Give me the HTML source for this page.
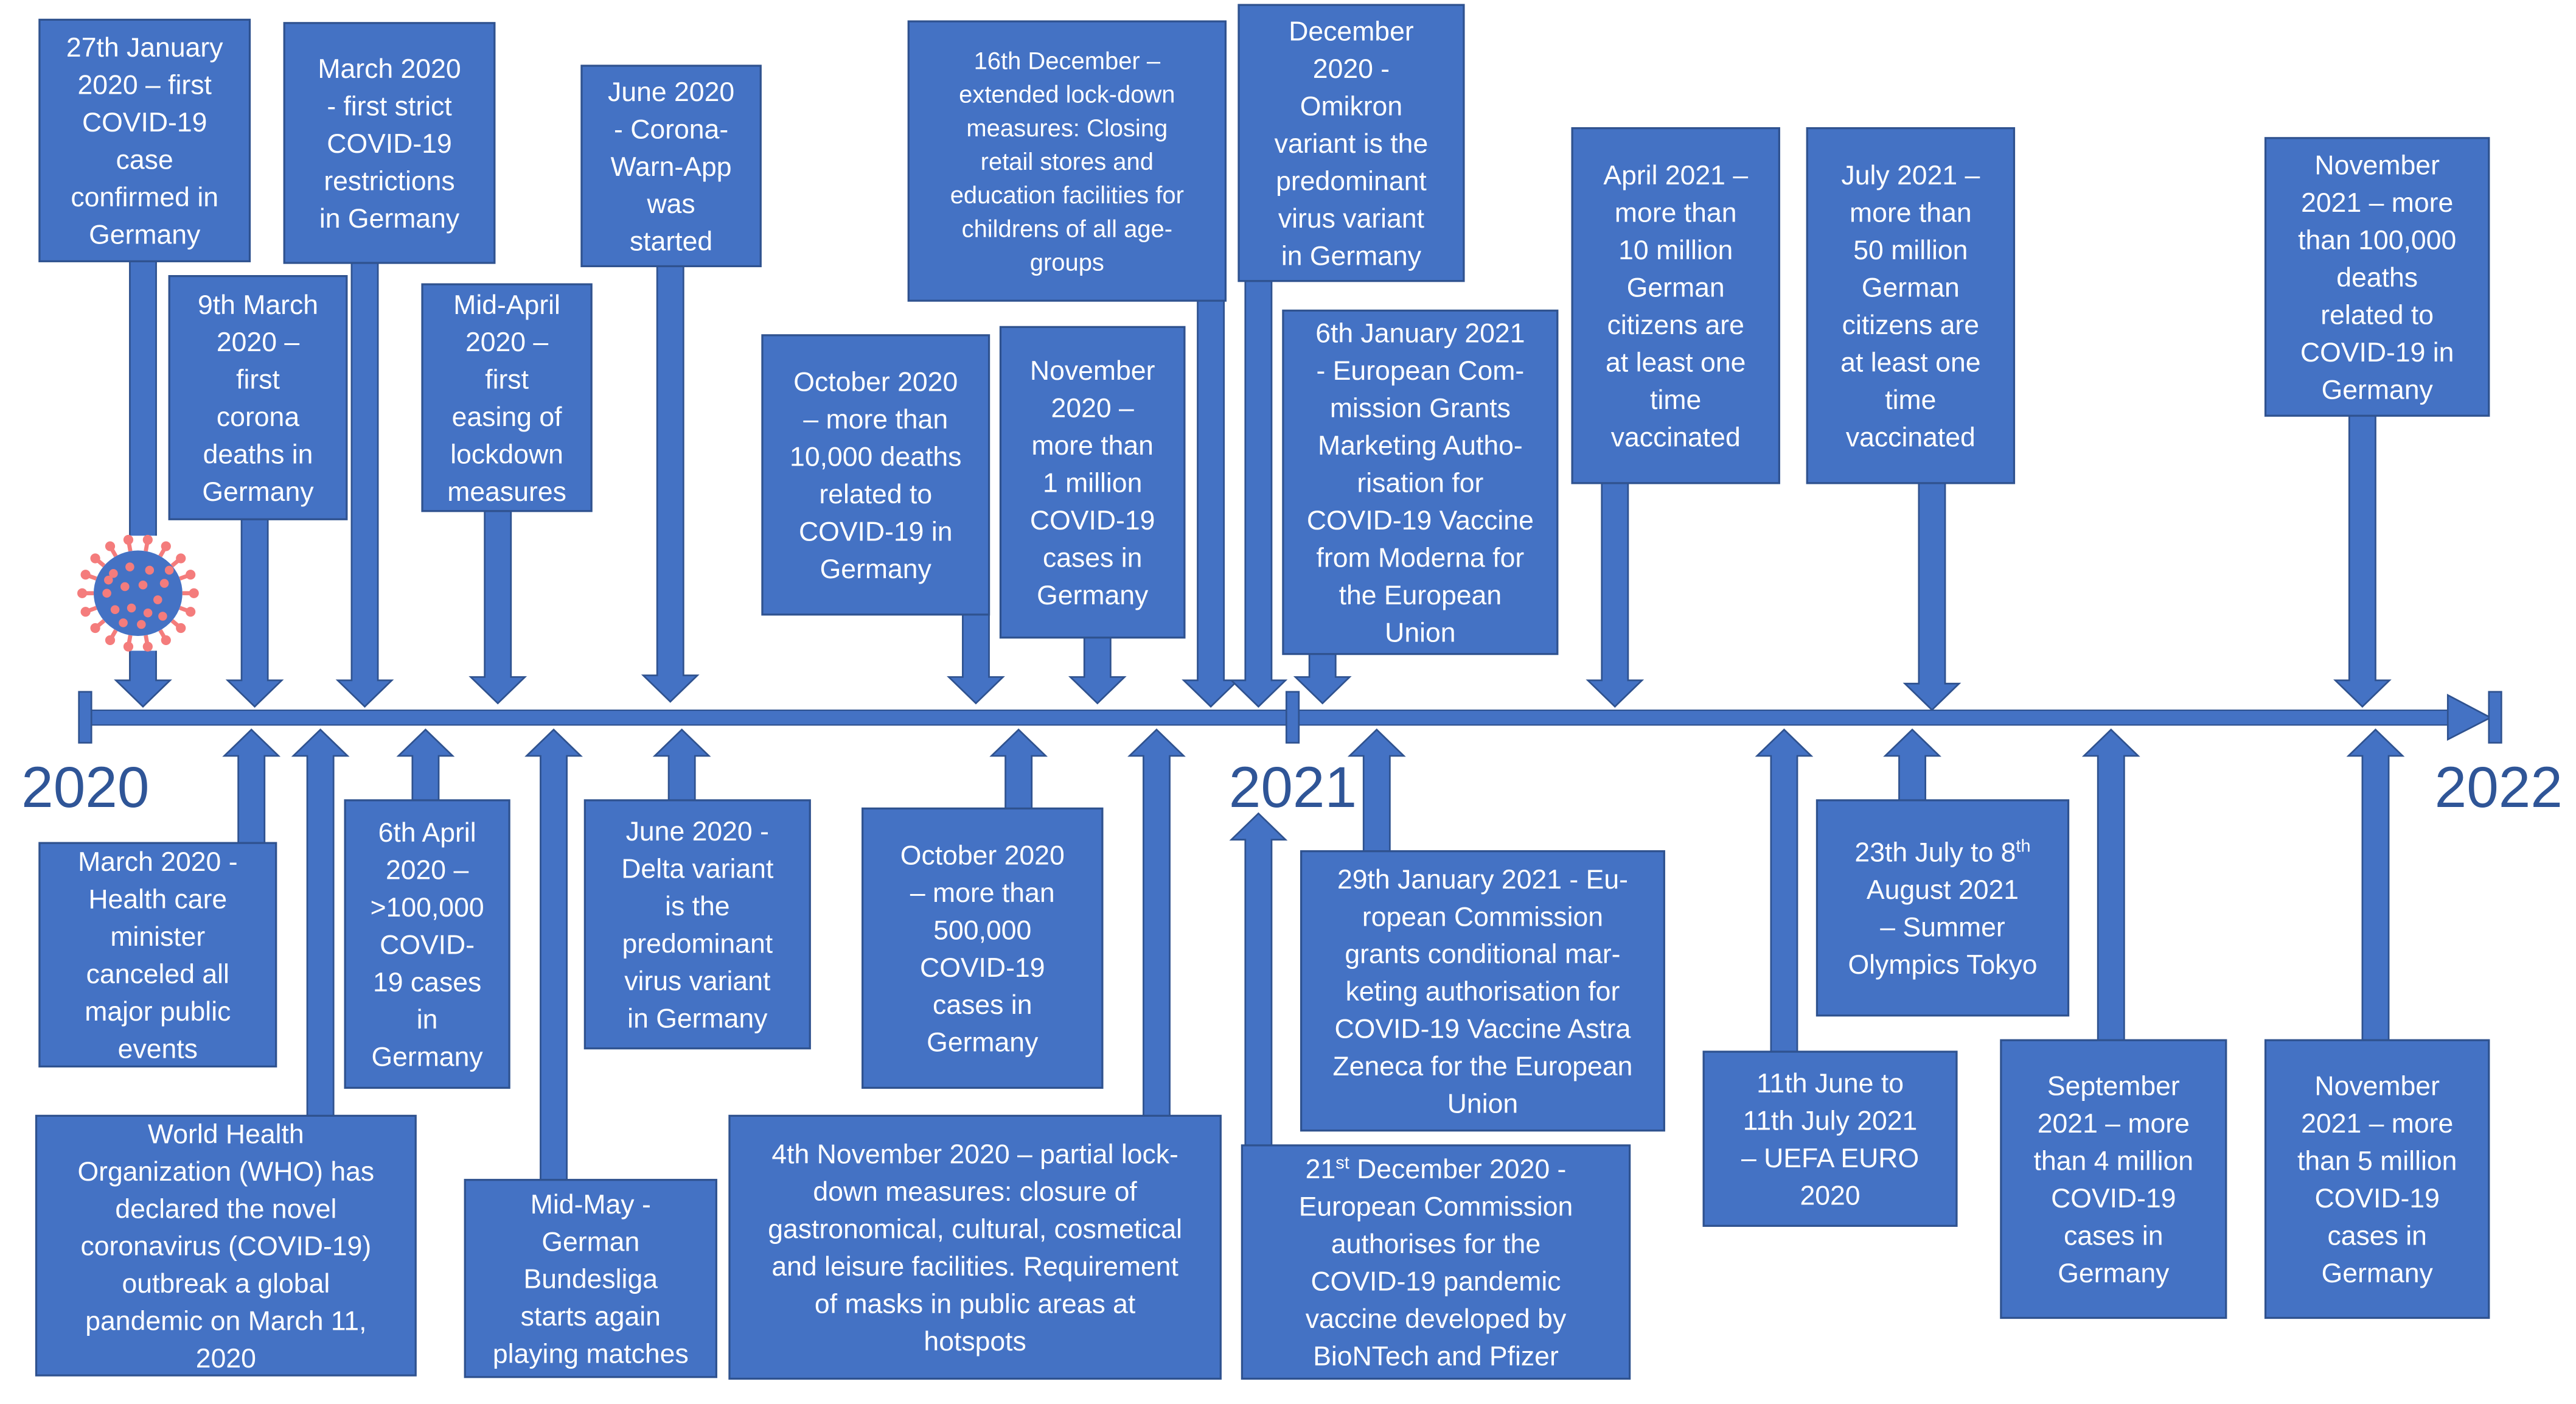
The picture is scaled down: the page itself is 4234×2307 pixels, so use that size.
<!DOCTYPE html>
<html><head><meta charset="utf-8"><style>
html,body{margin:0;padding:0;background:#fff;}
svg{display:block;}
text{font-family:"Liberation Sans",sans-serif;fill:#fff;}
</style></head><body>
<svg id="s" xmlns="http://www.w3.org/2000/svg" width="4234" height="2307" viewBox="0 0 1568 854.4">
<rect x="0" y="0" width="1568" height="854.4" fill="#fff"/>
<g id="arrows"></g>
<!-- axis -->
<rect x="52" y="432.2" width="1442" height="9" fill="#4472C4" stroke="#2F528F" stroke-width="0.8"/>
<polygon points="1490,423 1516,436.7 1490,450" fill="#4472C4" stroke="#2F528F" stroke-width="1"/>
<rect x="48" y="421" width="7.6" height="31" fill="#4472C4" stroke="#2F528F" stroke-width="1"/>
<rect x="783" y="421" width="7.6" height="31" fill="#4472C4" stroke="#2F528F" stroke-width="1"/>
<rect x="1515" y="421" width="7.6" height="31" fill="#4472C4" stroke="#2F528F" stroke-width="1"/>
<text x="13" y="491" style="fill:#2F5597;font-size:35px">2020</text>
<text x="748" y="491" style="fill:#2F5597;font-size:35px">2021</text>
<text x="1482" y="491" style="fill:#2F5597;font-size:35px">2022</text>
<!-- virus -->
<g id="virus">
<rect x="46" y="326" width="76" height="70" fill="#fff"/>
<ellipse cx="84" cy="361" rx="27" ry="26" fill="#4472C4"/>
</g>
<g id="boxes"></g>
</svg>
<script>
var NS="http://www.w3.org/2000/svg";
var ga=document.getElementById("arrows"),gb=document.getElementById("boxes"),gv=document.getElementById("virus");
function el(t,a,p){var e=document.createElementNS(NS,t);for(var k in a)e.setAttribute(k,a[k]);p.appendChild(e);return e;}
function down(x,y1,tip){var sw=8,hw=16.5,hl=16;
el("polygon",{points:[x-sw,y1,x+sw,y1,x+sw,tip-hl,x+hw,tip-hl,x,tip,x-hw,tip-hl,x-sw,tip-hl].join(" "),fill:"#4472C4",stroke:"#2F528F","stroke-width":1},ga);}
function up(x,y1,tip){var sw=8,hw=16.5,hl=16;
el("polygon",{points:[x-sw,y1,x+sw,y1,x+sw,tip+hl,x+hw,tip+hl,x,tip,x-hw,tip+hl,x-sw,tip+hl].join(" "),fill:"#4472C4",stroke:"#2F528F","stroke-width":1},ga);}
function box(x,y,w,h,lines,fs){fs=fs||16.5;var lh=fs*1.38;
el("rect",{x:x,y:y,width:w,height:h,fill:"#4472C4",stroke:"#2F528F","stroke-width":1.2},gb);
var cy=y+h/2,b=cy-(lines.length-1)*lh/2+fs*0.36;
lines.forEach(function(l,i){var t=el("text",{x:x+w/2,y:b+i*lh,"text-anchor":"middle","font-size":fs},gb);
if(l.indexOf("^")>=0){var p=l.split("^");t.appendChild(document.createTextNode(p[0]));var s=el("tspan",{"font-size":fs*0.65,dy:-6},t);s.textContent=p[1].split("|")[0];var r=el("tspan",{dy:6},t);r.textContent=p[1].split("|")[1]||"";}
else t.textContent=l;});}
// top
down(87,159,430);down(155,316,430);down(222,160,430);down(303,311,428);down(408,162,427);
down(594,374,428);down(737,183,430);down(668,388,428);down(766,171,430);down(805,398,428);
down(983,294,430);down(1176,294,432);down(1438,253,430);
// bottom
up(153,513,444);up(195,679,444);up(259,487,444);up(337,718,444);up(415,487,444);up(620,492,444);
up(704,679,444);up(766,697,495);up(838,518,444);up(1086,640,444);up(1164,487,444);up(1285,633,444);up(1446,633,444);
box(24,12,128,147,["27th January","2020 – first","COVID-19","case","confirmed in","Germany"]);
box(103,168,108,148,["9th March","2020 –","first","corona","deaths in","Germany"]);
box(173,14,128,146,["March 2020","- first strict","COVID-19","restrictions","in Germany"]);
box(257,173,103,138,["Mid-April","2020 –","first","easing of","lockdown","measures"]);
box(354,40,109,122,["June 2020","- Corona-","Warn-App","was","started"]);
box(464,204,138,170,["October 2020","– more than","10,000 deaths","related to","COVID-19 in","Germany"]);
box(553,13,193,170,["16th December –","extended lock-down","measures: Closing","retail stores and","education facilities for","childrens of all age-","groups"],14.8);
box(609,199,112,189,["November","2020 –","more than","1 million","COVID-19","cases in","Germany"]);
box(754,3,137,168,["December","2020 -","Omikron","variant is the","predominant","virus variant","in Germany"]);
box(781,189,167,209,["6th January 2021","- European Com-","mission Grants","Marketing Autho-","risation for","COVID-19 Vaccine","from Moderna for","the European","Union"]);
box(957,78,126,216,["April 2021 –","more than","10 million","German","citizens are","at least one","time","vaccinated"]);
box(1100,78,126,216,["July 2021 –","more than","50 million","German","citizens are","at least one","time","vaccinated"]);
box(1379,84,136,169,["November","2021 – more","than 100,000","deaths","related to","COVID-19 in","Germany"]);
box(24,513,144,136,["March 2020 -","Health care","minister","canceled all","major public","events"]);
box(22,679,231,158,["World Health","Organization (WHO) has","declared the novel","coronavirus (COVID-19)","outbreak a global","pandemic on March 11,","2020"]);
box(210,487,100,175,["6th April","2020 –",">100,000","COVID-","19 cases","in","Germany"]);
box(283,718,153,120,["Mid-May -","German","Bundesliga","starts again","playing matches"]);
box(356,487,137,151,["June 2020 -","Delta variant","is the","predominant","virus variant","in Germany"]);
box(525,492,146,170,["October 2020","– more than","500,000","COVID-19","cases in","Germany"]);
box(444,679,299,160,["4th November 2020 – partial lock-","down measures: closure of","gastronomical, cultural, cosmetical","and leisure facilities. Requirement","of masks in public areas at","hotspots"]);
box(756,697,236,142,["21^st| December 2020 -","European Commission","authorises for the","COVID-19 pandemic","vaccine  developed by","BioNTech and Pfizer"]);
box(792,518,221,170,["29th January 2021 - Eu-","ropean Commission","grants conditional mar-","keting authorisation for","COVID-19 Vaccine Astra","Zeneca for the European","Union"]);
box(1037,640,154,106,["11th June to","11th July 2021","– UEFA EURO","2020"]);
box(1106,487,153,131,["23th July to 8^th|","August 2021","– Summer","Olympics Tokyo"]);
box(1218,633,137,169,["September","2021 – more","than 4 million","COVID-19","cases in","Germany"]);
box(1379,633,136,169,["November","2021 – more","than 5 million","COVID-19","cases in","Germany"]);
// virus spikes
for(var i=0;i<18;i++){var a=i*Math.PI*2/18,cx=84,cy=361;
var x1=cx+27*Math.cos(a),y1=cy+26*Math.sin(a),x2=cx+34*Math.cos(a),y2=cy+33*Math.sin(a);
el("line",{x1:x1,y1:y1,x2:x2,y2:y2,stroke:"#F47C7C","stroke-width":2.5},gv);
el("circle",{cx:x2,cy:y2,r:3,fill:"#F47C7C"},gv);}
var pts=[[-15,-12],[-5,-16],[7,-14],[16,-6],[-19,0],[-8,-4],[3,-5],[12,4],[-14,10],[-4,9],[6,12],[15,14],[-9,18],[2,19],[19,-14],[-18,-8]];
pts.forEach(function(p){el("circle",{cx:84+p[0],cy:361+p[1],r:2.7,fill:"#F47C7C"},gv);});
</script>
</body></html>
